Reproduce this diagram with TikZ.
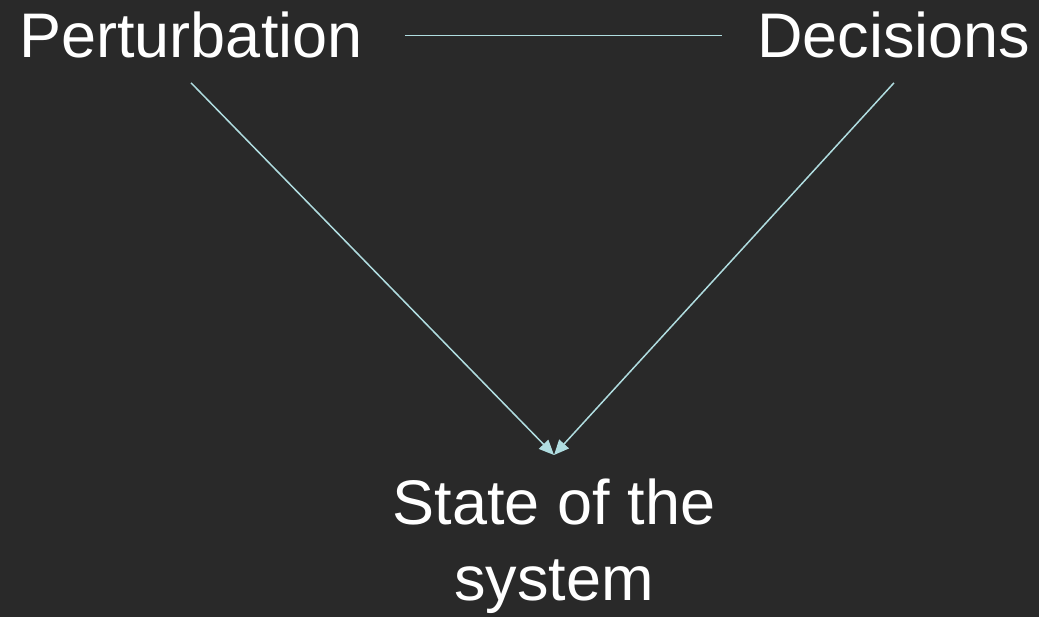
\documentclass[tikz,border=0pt]{standalone}
\usepackage{fontspec}
\setmainfont{Liberation Sans}
\usetikzlibrary{arrows.meta,positioning,backgrounds}
\definecolor{bgdark}{HTML}{292929}
\definecolor{linkblue}{HTML}{B0DDE0}

\tikzset{
  label/.style={text=white, inner sep=24pt, font=\fontsize{63}{75.6}\selectfont},
  link/.style={draw=linkblue, line width=1.5pt},
  arrow/.style={link, -{Triangle[length=15pt,width=13pt]}}
}

\begin{document}
\begin{tikzpicture}[x=1pt, y=1pt]
    \fill[bgdark] (0,0) rectangle (1039,-617);
    \useasboundingbox (0,0) rectangle (1039,-617);

    \node[label, anchor=base] (pert) at (191,-58) {Perturbation};
    \node[label, anchor=base] (dec) at (894,-58) {Decisions};
    \node[label, anchor=north, align=center] (state) at (554,-455) {State of the\\system};

    \draw[link, shorten <=18pt, shorten >=11pt] (pert.east) -- (dec.west);
    \draw[arrow] (pert.south) -- (state.north);
    \draw[arrow] (dec.south) -- (state.north);
\end{tikzpicture}
\end{document}
